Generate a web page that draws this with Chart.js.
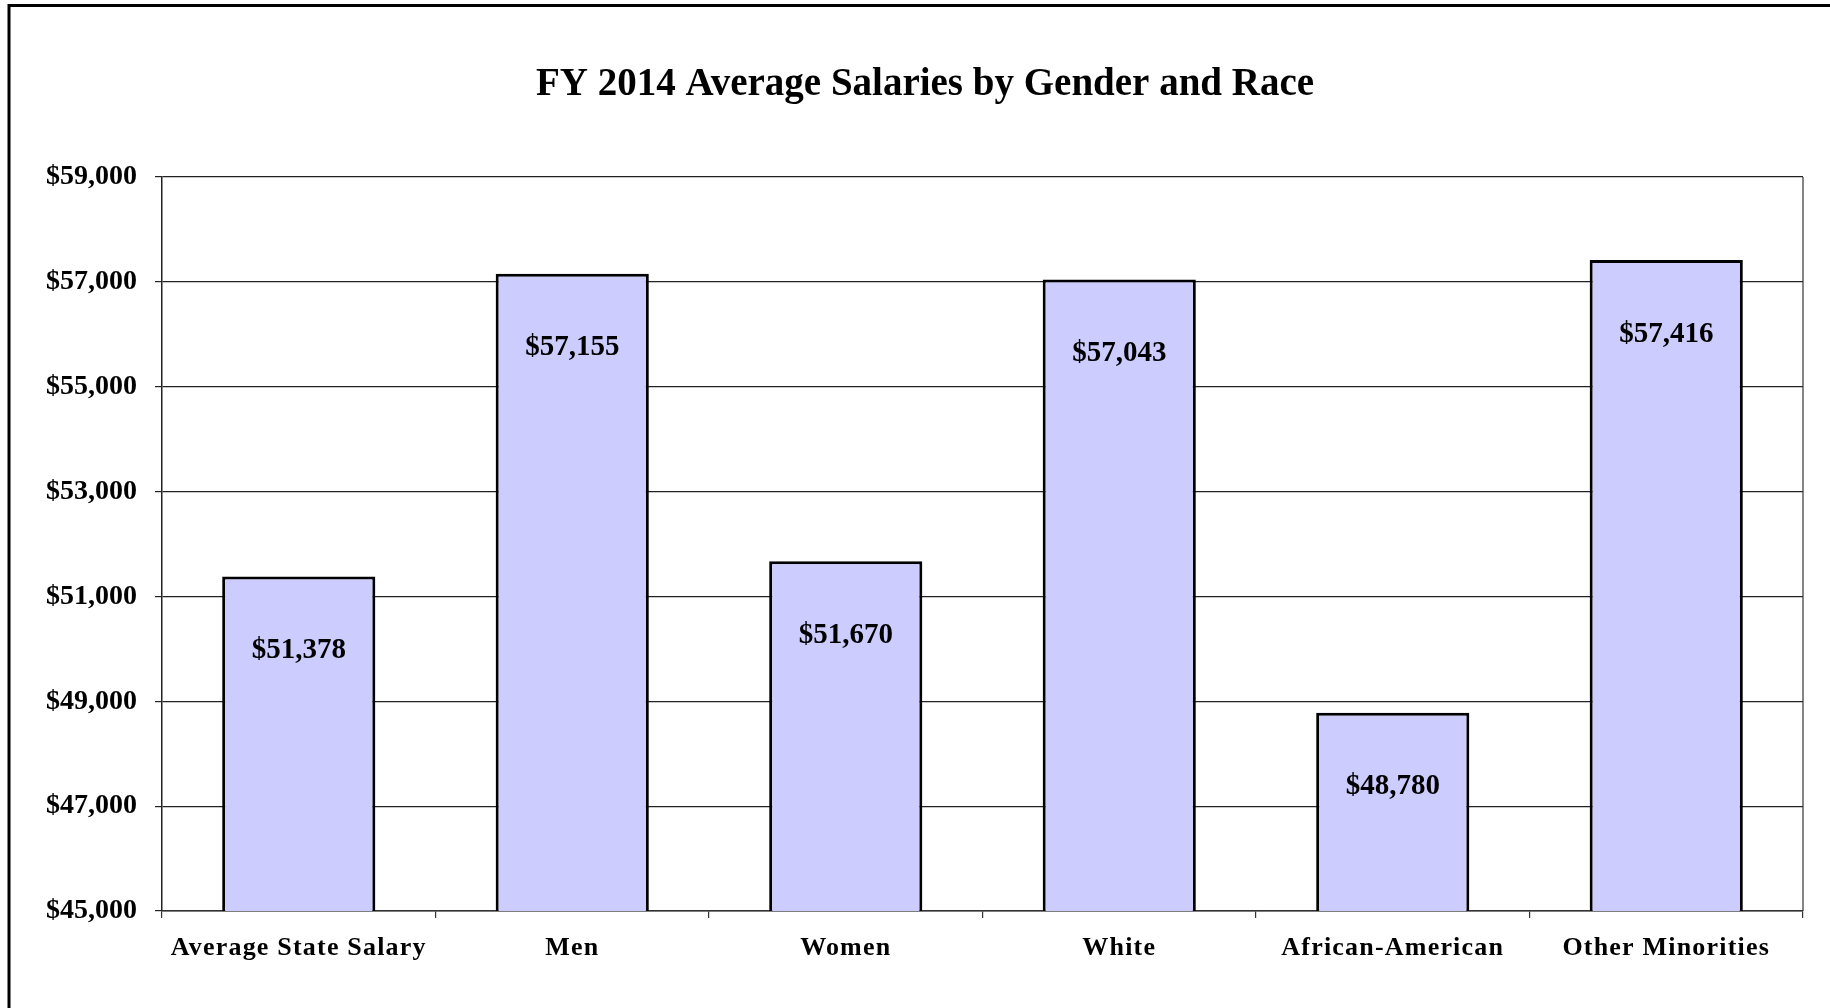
<!DOCTYPE html>
<html>
<head>
<meta charset="utf-8">
<script src="https://cdn.jsdelivr.net/npm/chart.js@4"></script>
<style>
  html, body { margin: 0; padding: 0; background: #fff; }
  canvas { display: block; }
</style>
</head>
<body>
<canvas id="c" width="1830" height="1008"></canvas>
<script>
const categories = ["Average State Salary", "Men", "Women", "White", "African-American", "Other Minorities"];
const salaries = [51378, 57155, 51670, 57043, 48780, 57416];
const yMin = 45000;
const yMax = 59000;
const yStep = 2000;
const titleText = "FY 2014 Average Salaries by Gender and Race";

const fmt = v => "$" + Number(v).toLocaleString("en-US");
const serif = "'Liberation Serif', 'Times New Roman', serif";

const frame = {
  id: "frame",
  beforeDraw(chart) {
    const ctx = chart.ctx;
    ctx.save();
    ctx.strokeStyle = "#000";
    ctx.lineWidth = 3;
    ctx.beginPath();
    ctx.moveTo(9, chart.height);
    ctx.lineTo(9, 5.5);
    ctx.lineTo(chart.width, 5.5);
    ctx.stroke();
    ctx.restore();
    // x category labels are letter-spaced in the original
    if ("letterSpacing" in ctx) ctx.letterSpacing = "1.2px";
  },
  beforeDatasetsDraw(chart) {
    const ctx = chart.ctx;
    if ("letterSpacing" in ctx) ctx.letterSpacing = "0px";
  },
  afterDatasetsDraw(chart) {
    const ctx = chart.ctx;
    const a = chart.chartArea;
    ctx.save();
    ctx.strokeStyle = "#333";
    ctx.lineWidth = 1.2;
    ctx.beginPath();
    ctx.moveTo(a.right, a.top);
    ctx.lineTo(a.right, a.bottom);
    ctx.stroke();
    // data labels
    const meta = chart.getDatasetMeta(0);
    ctx.fillStyle = "#000";
    ctx.font = "bold 29px " + serif;
    ctx.textAlign = "center";
    ctx.textBaseline = "middle";
    meta.data.forEach((bar, i) => {
      const v = chart.data.datasets[0].data[i];
      ctx.fillText(fmt(v), bar.x, bar.y + 74);
    });
    ctx.restore();
  },
  afterDraw(chart) {
    const ctx = chart.ctx;
    ctx.save();
    if ("letterSpacing" in ctx) ctx.letterSpacing = "0px";
    ctx.fillStyle = "#000";
    ctx.font = "bold 39px " + serif;
    ctx.textAlign = "center";
    ctx.textBaseline = "alphabetic";
    ctx.fillText(titleText, 925, 95);
    ctx.restore();
  }
};

new Chart(document.getElementById("c"), {
  type: "bar",
  data: {
    labels: categories,
    datasets: [{
      data: salaries,
      backgroundColor: "#CCCCFF",
      borderColor: "#000",
      borderWidth: 3,
      borderSkipped: false,
      categoryPercentage: 1,
      barPercentage: 0.56
    }]
  },
  options: {
    responsive: false,
    animation: false,
    devicePixelRatio: 1,
    layout: { padding: { left: 0, right: 27, top: 177, bottom: 0 } },
    plugins: {
      legend: { display: false },
      tooltip: { enabled: false },
      title: { display: false }
    },
    scales: {
      x: {
        grid: {
          offset: true,
          drawOnChartArea: false,
          drawTicks: true,
          tickLength: 7,
          color: "#333",
          lineWidth: 1.2
        },
        border: { color: "#333", width: 1.5 },
        ticks: {
          color: "#000",
          font: { family: serif, size: 26, weight: "bold" },
          padding: 15,
          maxRotation: 0,
          autoSkip: false
        },
        afterFit(scale) { scale.height = 97; }
      },
      y: {
        min: yMin,
        max: yMax,
        grid: {
          color: "#222",
          lineWidth: 1.2,
          tickLength: 7,
          drawTicks: true
        },
        border: { color: "#222", width: 1.5 },
        ticks: {
          stepSize: yStep,
          z: 1,
          color: "#000",
          font: { family: serif, size: 28, weight: "bold" },
          padding: 18,
          callback: v => fmt(v)
        },
        afterFit(scale) { scale.width = 162; }
      }
    }
  },
  plugins: [frame]
});
</script>
</body>
</html>
